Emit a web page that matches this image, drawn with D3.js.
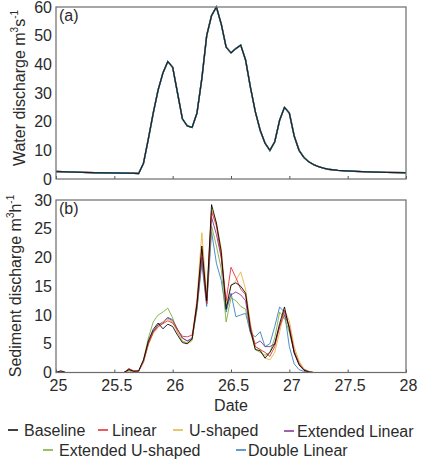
<!DOCTYPE html>
<html>
<head>
<meta charset="utf-8">
<script src="https://cdn.jsdelivr.net/npm/d3@7"></script>
<style>
  body { margin: 0; background: #fff; }
  text { font-family: 'Liberation Sans', Arial, sans-serif; fill: #2b2b2b; }
</style>
</head>
<body>
<script>
// hours after day 25.0
const waterHours = [0, 4, 8, 12, 16, 17, 18, 19, 20, 21, 22, 23, 24, 25, 26, 27, 28, 29, 30, 31, 32, 33, 34, 35, 36,
  37, 38, 39, 40, 41, 42, 43, 44, 45, 46, 47, 48, 49, 50, 51, 52, 53, 54, 55, 56, 58, 60, 64, 68, 72]
const waterQ = [2.6, 2.4, 2.2, 2.1, 2.0,
  1.9, 5.5, 14, 23, 31, 37, 41, 39, 30, 21,
  18.5, 18, 23, 35, 50, 57, 60, 54, 46, 44,
  45.5, 46.7, 41.5, 32, 23.5, 17, 12.5, 10, 13, 20.5,
  25, 23, 15, 10, 7.5, 6, 5, 4.3, 3.8, 3.4,
  3.0, 2.8, 2.5, 2.3, 2.2]

const sedHours = [0, 1, 2, 14, 15, 16, 17, 18, 19, 20, 21, 22, 23, 24, 25, 26, 27, 28, 29, 30, 31, 32, 33, 34, 35,
  36, 37, 38, 39, 40, 41, 42, 43, 44, 45, 46, 47, 48, 49, 50, 51, 52, 53, 72]

const baseline = [0, 0.3, 0, 0, 0.5, 0.2,
  0.3, 2.2, 5.5, 7.5, 8.6, 7.6, 8.4, 8.0, 6.5, 5.2,
  5.0, 5.8, 12, 22, 12.5, 29.2, 26, 21, 11, 15.2,
  15.6, 15, 13.8, 7.5, 4, 3.8, 2.5, 3.5, 5, 8.5,
  11.4, 7.5, 3.4, 1.3, 0.4, 0.1, 0,
  0]
const linear = [0, 0.1, 0, 0, 0.6, 0.3,
  0.2, 2.0, 5.0, 7.0, 8.0, 8.5, 9.0, 8.6, 7.4, 6.3,
  6.2, 6.5, 12, 21.5, 12, 28, 25.5, 20, 12.5, 18.3,
  16.5, 14.5, 13.5, 8, 4.5, 4, 3.5, 2.8, 4.5, 8,
  10.8, 8, 3.8, 1.5, 0.5, 0.1, 0,
  0]
const uShaped = [0, 0.1, 0, 0, 0.3, 0.2,
  0.2, 1.8, 4.8, 6.8, 7.8, 8.8, 9.3, 8.8, 7.0, 5.5,
  5.0, 5.5, 13, 24.3, 13.5, 28.5, 26, 21.5, 12, 15,
  16, 17.5, 14.5, 8.5, 4.5, 4, 2.5, 2.2, 3.5, 7,
  10.8, 9, 4.5, 2, 0.6, 0.2, 0,
  0]
const extLinear = [0, 0.1, 0, 0, 0.7, 0.2,
  0.2, 2.0, 5.2, 7.2, 8.3, 8.6, 9.5, 9.0, 7.5, 6.0,
  5.5, 6.0, 11.5, 20, 12, 27, 24, 20, 11.5, 13.5,
  14, 13.5, 12.5, 7, 5, 5.5, 4.5, 4.5, 5, 8,
  10, 8, 3.5, 1.5, 0.5, 0.1, 0,
  0]
const extUShaped = [0, 0.1, 0, 0, 0.3, 0.1,
  0.2, 2.2, 6, 8.8, 10, 10.5, 11.2, 9.5, 7.0, 5.4,
  5.2, 5.8, 11, 20, 12, 25.5, 22, 18, 8.8, 13,
  12.5, 11.5, 11, 7, 4, 3.5, 3, 3.5, 6, 10.5,
  9.5, 7, 3.5, 1.8, 0.6, 0.2, 0,
  0]
const doubleLinear = [0, 0.1, 0, 0, 0.4, 0.2,
  0.2, 1.8, 5.0, 7.0, 8.3, 8.8, 9.6, 9.2, 7.5, 6.0,
  5.5, 5.8, 11, 19, 11.5, 24.5, 19, 16, 10.5, 13.8,
  9.7, 10, 10.3, 6.9, 6.2, 7.1, 4.5, 5, 8, 11.4,
  10.5, 4.5, 1.5, 0.5, 0.2, 0, 0,
  0]

const seriesNames = ['Baseline', 'Linear', 'U-shaped', 'Extended Linear', 'Extended U-shaped', 'Double Linear']
const seriesColors = ['#000000', '#e3262e', '#e8b23a', '#7e2f8e', '#77ac30', '#2f7bbf']
const sedSeries = [baseline, linear, uShaped, extLinear, extUShaped, doubleLinear]

const xTicks = [25, 25.5, 26, 26.5, 27, 27.5, 28]
const waterTicks = [0, 10, 20, 30, 40, 50, 60]
const sedTicks = [0, 5, 10, 15, 20, 25, 30]

const width = 428
const height = 462
const left = 56
const right = 406
const fontSize = 16

const svg = d3.select('body').append('svg')
  .attr('width', width)
  .attr('height', height)

const x = d3.scaleLinear().domain([25, 28]).range([left, right])
const yA = d3.scaleLinear().domain([0, 60]).range([179, 7])
const yB = d3.scaleLinear().domain([0, 30]).range([372.5, 200])

function toDate(h) {
  return 25 + h / 24
}

function makePanel(y, ticks, tag, showX) {
  const g = svg.append('g')
  const [y0, y1] = y.range()

  // inner ticks along bottom
  g.append('g')
    .attr('transform', `translate(2,${y0})`)
    .call(d3.axisBottom(x).tickValues(xTicks).tickSizeInner(-3).tickSizeOuter(0).tickPadding(7.5)
      .tickFormat(showX ? d3.format('') : () => ''))
    .call(a => a.select('.domain').remove())
    .call(a => a.selectAll('line').attr('stroke', '#555').attr('transform', 'translate(-2,0)'))
    .call(a => a.selectAll('text').attr('font-size', fontSize).attr('font-family', null).attr('fill', '#2b2b2b'))

  g.append('g')
    .attr('transform', `translate(${left},0)`)
    .call(d3.axisLeft(y).tickValues(ticks).tickSize(0).tickPadding(4))
    .call(a => a.select('.domain').remove())
    .call(a => a.selectAll('text').attr('font-size', fontSize).attr('font-family', null).attr('fill', '#2b2b2b'))

  g.append('text')
    .attr('x', left + 3)
    .attr('y', y1 + 14)
    .attr('font-size', fontSize)
    .text(tag)

  return g
}

function drawBox(y) {
  const [y0, y1] = y.range()
  svg.append('rect')
    .attr('x', left).attr('y', y1)
    .attr('width', right - left).attr('height', y0 - y1)
    .attr('fill', 'none')
    .attr('stroke', '#6b6b6b')
    .attr('stroke-width', 1.2)
}

makePanel(yA, waterTicks, '(a)', false)
makePanel(yB, sedTicks, '(b)', true)

const lineA = d3.line()
  .x((d, i) => x(toDate(waterHours[i])))
  .y(d => yA(d))

const lineB = d3.line()
  .x((d, i) => x(toDate(sedHours[i])))
  .y(d => yB(d))

// panel (a): all runs overlap, draw blue just under black
const orderA = [1, 2, 3, 4, 5, 0]
orderA.forEach(k => {
  svg.append('path')
    .datum(waterQ)
    .attr('d', lineA)
    .attr('fill', 'none')
    .attr('stroke', seriesColors[k])
    .attr('stroke-width', k === 0 ? 1 : 1.4)
    .attr('stroke-opacity', k === 0 ? 0.75 : 0.9)
})

// draw in reverse so baseline ends up on top
const order = d3.range(seriesNames.length).reverse()
order.forEach(k => {
  svg.append('path')
    .datum(sedSeries[k])
    .attr('d', lineB)
    .attr('fill', 'none')
    .attr('stroke', seriesColors[k])
    .attr('stroke-width', 1)
    .attr('stroke-opacity', 0.85)
    .attr('stroke-linejoin', 'round')
})

drawBox(yA)
drawBox(yB)

// y labels with superscripts
function yLabel(cx, cy, main, unit1, sup1, unit2, sup2) {
  const t = svg.append('text')
    .attr('transform', `translate(${cx},${cy}) rotate(-90)`)
    .attr('text-anchor', 'middle')
    .attr('font-size', fontSize)
  t.append('tspan').text(main + ' ' + unit1)
  t.append('tspan').attr('dy', -7).attr('font-size', 10).text(sup1)
  t.append('tspan').attr('dy', 7).text(unit2)
  t.append('tspan').attr('dy', -7).attr('font-size', 10).text(sup2)
}

yLabel(25, 88, 'Water discharge', 'm', '3', 's', '-1')
yLabel(21, 286, 'Sediment discharge', 'm', '3', 'h', '-1')

svg.append('text')
  .attr('x', (left + right) / 2)
  .attr('y', 411)
  .attr('text-anchor', 'middle')
  .attr('font-size', fontSize)
  .text('Date')

// legend: line start, text start, row baseline
const legendPos = [
  {x: 8, tx: 24, y: 430}, {x: 98, tx: 112, y: 430}, {x: 173, tx: 189, y: 430}, {x: 284, tx: 297, y: 431},
  {x: 43, tx: 59, y: 450}, {x: 236, tx: 248, y: 450}
]

const legend = svg.append('g')
seriesNames.forEach((name, i) => {
  const p = legendPos[i]
  legend.append('line')
    .attr('x1', p.x).attr('x2', p.x + 10)
    .attr('y1', p.y).attr('y2', p.y)
    .attr('stroke', seriesColors[i])
    .attr('stroke-width', 1.5)
  legend.append('text')
    .attr('x', p.tx)
    .attr('y', p.y + 5.5)
    .attr('font-size', fontSize)
    .text(name)
})
</script>
</body>
</html>
